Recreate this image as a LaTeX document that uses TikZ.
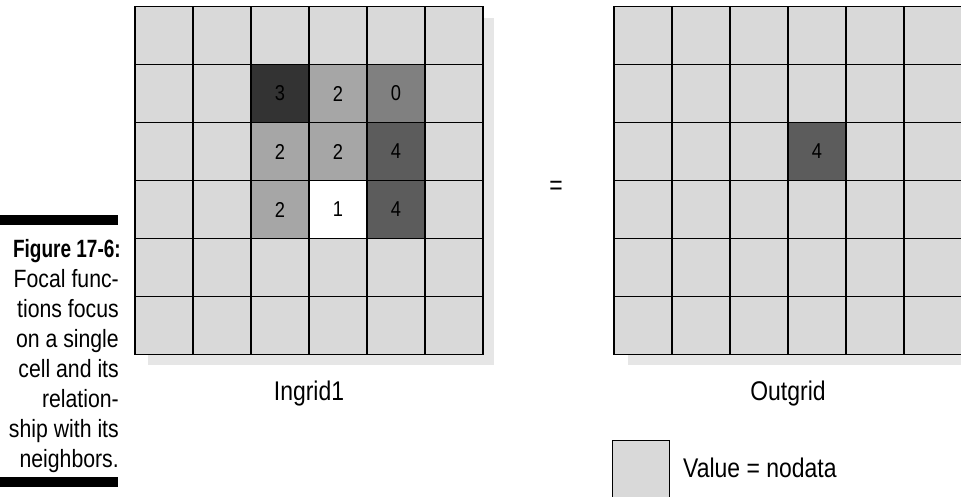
\documentclass[tikz,border=0pt]{standalone}
\usepackage{fontspec}
\setmainfont[FakeStretch=0.85]{Liberation Sans}
\newfontfamily\capboldfont[FakeStretch=0.76]{Liberation Sans Bold}
\definecolor{nodata}{HTML}{D9D9D9}
\definecolor{shadowgray}{HTML}{E6E6E6}
\definecolor{cthree}{HTML}{333333}
\definecolor{ctwo}{HTML}{A6A6A6}
\definecolor{czero}{HTML}{808080}
\definecolor{cfour}{HTML}{5C5C5C}
\begin{document}
\begin{tikzpicture}[x=1pt,y=-1pt,
  cellbox/.style={draw=black,line width=1.4pt,fill=nodata,minimum width=58pt,minimum height=58pt,inner sep=0pt,outer sep=0pt,font=\fontsize{21.5}{26}\selectfont},
  gridlabel/.style={font=\fontsize{27}{32}\selectfont,inner sep=0pt},
  capline/.style={anchor=base east,inner sep=0pt,font=\fontsize{25}{30}\selectfont},
  capbar/.style={fill=black,draw=none}]
\useasboundingbox (0,0) rectangle (961,496);
\clip (0,0) rectangle (961,496);
% shadows
\fill[shadowgray] (148,18) rectangle (494,365);
\fill[shadowgray] (628,18) rectangle (975,365);
% Ingrid1 cells
\foreach \i in {0,...,5}{
  \foreach \j in {0,...,5}{
    \node[cellbox] (a\i\j) at (164+58*\i,35.5+58*\j) {};
  }
}
\node[cellbox,fill=cthree] (a21) at (164+58*2,35.5+58*1) {3};
\node[cellbox,fill=ctwo]   (a31) at (164+58*3,35.5+58*1) {2};
\node[cellbox,fill=czero]  (a41) at (164+58*4,35.5+58*1) {0};
\node[cellbox,fill=ctwo]   (a22) at (164+58*2,35.5+58*2) {2};
\node[cellbox,fill=ctwo]   (a32) at (164+58*3,35.5+58*2) {2};
\node[cellbox,fill=cfour]  (a42) at (164+58*4,35.5+58*2) {4};
\node[cellbox,fill=ctwo]   (a23) at (164+58*2,35.5+58*3) {2};
\node[cellbox,fill=white]  (a33) at (164+58*3,35.5+58*3) {1};
\node[cellbox,fill=cfour]  (a43) at (164+58*4,35.5+58*3) {4};
% Outgrid cells
\foreach \i in {0,...,5}{
  \foreach \j in {0,...,5}{
    \node[cellbox] (b\i\j) at (643+58*\i,35.5+58*\j) {};
  }
}
\node[cellbox,fill=cfour] (b32) at (643+58*3,35.5+58*2) {4};
% labels
\node[gridlabel,anchor=base] (ingrid) at (309,400) {Ingrid1};
\node[gridlabel,anchor=base] (outgrid) at (788,400) {Outgrid};
\node[gridlabel] (eq) at (556,188) {=};
% legend
\node[draw=black,line width=1.4pt,fill=nodata,minimum width=57pt,minimum height=70pt,inner sep=0pt,anchor=north west] (legend) at (612,440) {};
\node[gridlabel,anchor=base west] (legendtext) at (683,477) {Value = nodata};
% caption
\fill[capbar] (0,215) rectangle (118,225);
\fill[capbar] (0,477) rectangle (118,487);
\node[capline] (cap1) at (121,257) {\capboldfont Figure 17-6:};
\node[capline] (cap2) at (119,287) {Focal func-};
\node[capline] (cap3) at (119,317) {tions focus};
\node[capline] (cap4) at (119,347) {on a single};
\node[capline] (cap5) at (119,377) {cell and its};
\node[capline] (cap6) at (119,407) {relation-};
\node[capline] (cap7) at (119,437) {ship with its};
\node[capline] (cap8) at (119,467) {neighbors.};
\end{tikzpicture}
\end{document}
